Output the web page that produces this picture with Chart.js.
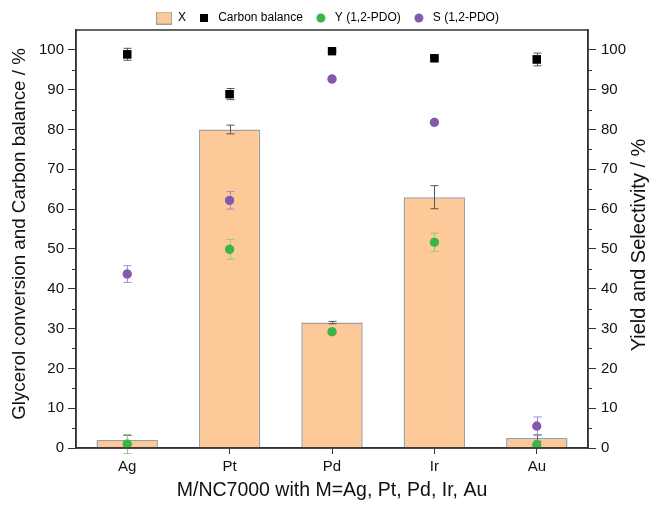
<!DOCTYPE html>
<html>
<head>
<meta charset="utf-8">
<script src="https://cdn.jsdelivr.net/npm/chart.js@4.4.1/dist/chart.umd.min.js"></script>
<style>
html,body{margin:0;padding:0;background:#fff;}
#wrap{width:653px;height:506px;}
</style>
</head>
<body>
<div id="wrap"><canvas id="c" width="653" height="506"></canvas></div>
<script>
const categories = ['Ag', 'Pt', 'Pd', 'Ir', 'Au'];
const conversionX = [2.0, 80.0, 31.5, 63.0, 2.5];
const conversionErr = [1.2, 1.1, 0.3, 2.9, 0.8];
const carbonBalance = [98.9, 88.9, 99.7, 97.9, 97.6];
const carbonErr = [1.5, 1.4, 0.3, 0.3, 1.6];
const yieldPDO = [1.0, 49.9, 29.2, 51.7, 0.8];
const yieldErr = [2.4, 2.5, 0.3, 2.3, 0.6];
const selectPDO = [43.7, 62.2, 92.7, 81.8, 5.5];
const selectErr = [2.1, 2.2, 0.3, 0.3, 2.3];
const majorTicks = [0, 10, 20, 30, 40, 50, 60, 70, 80, 90, 100];
const minorTicks = [5, 15, 25, 35, 45, 55, 65, 75, 85, 95];
const legendLabels = ['X', 'Carbon balance', 'Y (1,2-PDO)', 'S (1,2-PDO)'];
const leftTitle = 'Glycerol conversion and Carbon balance / %';
const rightTitle = 'Yield and Selectivity / %';

const FONT = "'Liberation Sans', Arial, sans-serif";
const AXIS = '#333333';
const BAR_FILL = '#fdc998', BAR_EDGE = '#a0a0a0';
const GREEN = '#3cb44a', PURPLE = '#8459ad';

function marker(w, h, draw) {
  const c = document.createElement('canvas');
  c.width = w; c.height = h;
  draw(c.getContext('2d'));
  return c;
}
const mkBox = marker(16, 13, g => { g.fillStyle = BAR_FILL; g.fillRect(0.5, 0.5, 15, 12); g.strokeStyle = BAR_EDGE; g.lineWidth = 1; g.strokeRect(0.5, 0.5, 15, 12); });
const mkSq = marker(8, 8, g => { g.fillStyle = '#000'; g.fillRect(0, 0, 8, 8); });
const mkCircle = col => marker(10, 10, g => { g.fillStyle = col; g.beginPath(); g.arc(5, 5, 4.5, 0, Math.PI * 2); g.fill(); });

const errorPlugin = {
  id: 'errorBars',
  afterDatasetDraw(chart, args) {
    const ds = chart.data.datasets[args.index];
    if (!ds.errors) return;
    const meta = args.meta;
    const scale = chart.scales[meta.yAxisID];
    const ctx = chart.ctx;
    ctx.save();
    ctx.strokeStyle = ds.errorColor;
    ctx.lineWidth = 1;
    meta.data.forEach((el, i) => {
      const v = ds.data[i], e = ds.errors[i];
      if (!e) return;
      const x = Math.round(el.x) + 0.5;
      const yt = scale.getPixelForValue(v + e);
      const yb = scale.getPixelForValue(v - e);
      ctx.beginPath();
      ctx.moveTo(x, yt); ctx.lineTo(x, yb);
      ctx.moveTo(x - 4, yt); ctx.lineTo(x + 4, yt);
      ctx.moveTo(x - 4, yb); ctx.lineTo(x + 4, yb);
      ctx.stroke();
    });
    ctx.restore();
    if (ds.type === 'line') {
      meta.data.forEach(el => el.draw(ctx, chart.chartArea));
    }
  }
};

const legendHeightPlugin = {
  id: 'legendHeight',
  beforeLayout(chart) {
    const lg = chart.legend;
    if (lg && !lg._patched) {
      const orig = lg.fit.bind(lg);
      lg.fit = function () { orig(); this.height = 30; this.bottom = this.top + 30; };
      const origDraw = lg.draw.bind(lg);
      lg.draw = function () { const c = this.ctx; c.save(); c.translate(1, 2); origDraw(); c.restore(); };
      lg._patched = true;
    }
  }
};

const framePlugin = {
  id: 'frame',
  afterDraw(chart) {
    const ctx = chart.ctx, a = chart.chartArea;
    ctx.save();
    ctx.strokeStyle = AXIS;
    ctx.lineWidth = 1.5;
    ctx.strokeRect(a.left, a.top, a.right - a.left, a.bottom - a.top);
    ctx.lineWidth = 1;
    const yl = chart.scales.y, yr = chart.scales.y2;
    minorTicks.forEach(v => {
      const p = Math.round(yl.getPixelForValue(v)) + 0.5;
      ctx.beginPath(); ctx.moveTo(a.left - 4, p); ctx.lineTo(a.left, p); ctx.stroke();
      const q = Math.round(yr.getPixelForValue(v)) + 0.5;
      ctx.beginPath(); ctx.moveTo(a.right, q); ctx.lineTo(a.right + 4, q); ctx.stroke();
    });
    ctx.fillStyle = '#111';
    ctx.textAlign = 'center';
    ctx.textBaseline = 'middle';
    ctx.save();
    ctx.font = '18.8px ' + FONT;
    ctx.translate(20, (a.top + a.bottom) / 2 - 5);
    ctx.rotate(-Math.PI / 2);
    ctx.fillText(leftTitle, 0, 0);
    ctx.restore();
    ctx.font = '20px ' + FONT;
    ctx.translate(639, (a.top + a.bottom) / 2 + 6);
    ctx.rotate(-Math.PI / 2);
    ctx.fillText(rightTitle, 0, 0);
    ctx.restore();
  }
};

const yTickBuild = (scale) => {
  scale.ticks = majorTicks.map(v => ({ value: v }));
};

new Chart(document.getElementById('c'), {
  type: 'bar',
  data: {
    labels: categories,
    datasets: [
      {
        type: 'line', label: legendLabels[1], data: carbonBalance, errors: carbonErr,
        errorColor: '#555555', yAxisID: 'y', showLine: false,
        pointStyle: 'rect', pointRadius: 5.8, pointHoverRadius: 5.8,
        backgroundColor: '#000000', borderColor: '#000000', borderWidth: 0, order: 1
      },
      {
        type: 'line', label: legendLabels[2], data: yieldPDO, errors: yieldErr,
        errorColor: '#8fce7f', yAxisID: 'y2', showLine: false,
        pointStyle: 'circle', pointRadius: 4.5, pointHoverRadius: 4.5,
        backgroundColor: GREEN, borderColor: GREEN, borderWidth: 0, order: 2
      },
      {
        type: 'line', label: legendLabels[3], data: selectPDO, errors: selectErr,
        errorColor: '#a48cc4', yAxisID: 'y2', showLine: false,
        pointStyle: 'circle', pointRadius: 4.5, pointHoverRadius: 4.5,
        backgroundColor: PURPLE, borderColor: PURPLE, borderWidth: 0, order: 3
      },
      {
        type: 'bar', label: legendLabels[0], data: conversionX, errors: conversionErr,
        errorColor: '#555555', yAxisID: 'y',
        backgroundColor: BAR_FILL, borderColor: BAR_EDGE, borderWidth: 1.5,
        barPercentage: 0.6, categoryPercentage: 1.0, order: 4
      }
    ]
  },
  options: {
    responsive: false,
    animation: false,
    events: [],
    layout: { padding: { top: 0, left: 0, right: 0, bottom: 0 } },
    plugins: {
      tooltip: { enabled: false },
      legend: {
        display: true,
        position: 'top',
        labels: {
          usePointStyle: true,
          font: { family: FONT, size: 12 },
          color: '#111',
          boxWidth: 16, boxHeight: 12, pointStyleWidth: 16,
          padding: 10,
          generateLabels() {
            return [
              { text: legendLabels[0], pointStyle: mkBox, datasetIndex: 3, lineWidth: 0 },
              { text: legendLabels[1], pointStyle: mkSq, datasetIndex: 0, lineWidth: 0 },
              { text: legendLabels[2], pointStyle: mkCircle(GREEN), datasetIndex: 1, lineWidth: 0 },
              { text: legendLabels[3], pointStyle: mkCircle(PURPLE), datasetIndex: 2, lineWidth: 0 }
            ];
          }
        }
      }
    },
    scales: {
      x: {
        type: 'category',
        offset: true,
        grid: { display: true, drawOnChartArea: false, offset: false, tickLength: 6, color: AXIS, tickWidth: 1 },
        border: { display: true, color: AXIS, width: 1.5 },
        ticks: { font: { family: FONT, size: 15 }, color: '#111', padding: 4 },
        title: { display: true, text: 'M/NC7000 with M=Ag, Pt, Pd, Ir, Au', font: { family: FONT, size: 19.5 }, color: '#111', padding: { top: 4 } },
        afterFit(s) { s.height = 58; }
      },
      y: {
        position: 'left',
        min: 0, max: 105,
        afterBuildTicks: yTickBuild,
        grid: { display: true, drawOnChartArea: false, tickLength: 8, color: AXIS, tickWidth: 1 },
        border: { display: true, color: AXIS, width: 1.5 },
        ticks: { font: { family: FONT, size: 15 }, color: '#111', padding: 4 },
        title: { display: false },
        afterFit(s) { s.width = 76; }
      },
      y2: {
        position: 'right',
        min: 0, max: 105,
        afterBuildTicks: yTickBuild,
        grid: { display: true, drawOnChartArea: false, tickLength: 8, color: AXIS, tickWidth: 1 },
        border: { display: true, color: AXIS, width: 1.5 },
        ticks: { font: { family: FONT, size: 15 }, color: '#111', padding: 5 },
        title: { display: false },
        afterFit(s) { s.width = 65; }
      }
    }
  },
  plugins: [legendHeightPlugin, errorPlugin, framePlugin]
});
</script>
</body>
</html>
